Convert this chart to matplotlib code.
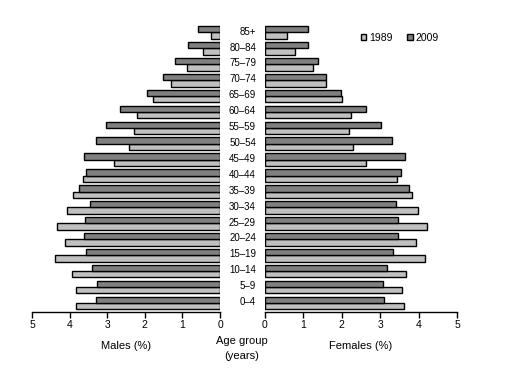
import matplotlib.pyplot as plt
import numpy as np

plt.rcParams['font.family'] = ['Liberation Sans', 'DejaVu Sans']

ages = ['0–4', '5–9', '10–14', '15–19', '20–24', '25–29', '30–34', '35–39', '40–44',
        '45–49', '50–54', '55–59', '60–64', '65–69', '70–74', '75–79', '80–84', '85+']

males_1989 = [3.84, 3.82, 3.93, 4.38, 4.11, 4.33, 4.06, 3.90, 3.64,
              2.81, 2.41, 2.28, 2.20, 1.78, 1.30, 0.88, 0.45, 0.24]
males_2009 = [3.31, 3.27, 3.40, 3.56, 3.63, 3.58, 3.45, 3.74, 3.56,
              3.61, 3.29, 3.03, 2.66, 1.94, 1.52, 1.20, 0.85, 0.59]
females_1989 = [3.63, 3.58, 3.68, 4.17, 3.94, 4.22, 3.99, 3.83, 3.44,
                2.64, 2.28, 2.20, 2.23, 2.00, 1.60, 1.24, 0.77, 0.58]
females_2009 = [3.11, 3.06, 3.19, 3.34, 3.47, 3.47, 3.42, 3.75, 3.55,
                3.65, 3.31, 3.03, 2.64, 1.97, 1.60, 1.37, 1.13, 1.13]

light = '#c0c0c0'
dark = '#808080'

fig = plt.figure(figsize=(5.13, 3.75), dpi=100)
bottom, height = 63 / 375, 288 / 375
ax_m = fig.add_axes([32 / 513, bottom, 188 / 513, height])
ax_f = fig.add_axes([265 / 513, bottom, 192 / 513, height])

y = np.arange(len(ages))
h = 0.4

ax_m.barh(y - 0.2, males_1989, height=h, color=light, edgecolor='black', linewidth=1)
ax_m.barh(y + 0.2, males_2009, height=h, color=dark, edgecolor='black', linewidth=1)
ax_f.barh(y - 0.2, females_1989, height=h, color=light, edgecolor='black', linewidth=1, label='1989')
ax_f.barh(y + 0.2, females_2009, height=h, color=dark, edgecolor='black', linewidth=1, label='2009')

ax_m.set_xlim(5, 0)
ax_f.set_xlim(0, 5)

for ax in (ax_m, ax_f):
    ax.set_ylim(-0.57, 17.53)
    ax.set_yticks([])
    for s in ['top', 'left', 'right']:
        ax.spines[s].set_visible(False)
    ax.spines['bottom'].set_linewidth(1)
    ax.set_xticks(range(6))
    ax.tick_params(axis='x', direction='out', length=4, width=1, labelsize=7.5, pad=2)

ax_m.set_xlabel('Males (%)', fontsize=8, labelpad=8)
ax_f.set_xlabel('Females (%)', fontsize=8, labelpad=8)

# age group labels between the two halves
for i, a in enumerate(ages):
    ax_f.text(-9 / 38.4, i + 0.05, a, ha='right', va='center', fontsize=7)

fig.text(242 / 513, 1 - 341 / 375, 'Age group', ha='center', va='center', fontsize=8)
fig.text(242 / 513, 1 - 356 / 375, '(years)', ha='center', va='center', fontsize=8)

ax_f.legend(loc='upper left', bbox_to_anchor=(0.5, 0.97), ncol=2, frameon=False,
            fontsize=7.5, handlelength=0.5, handleheight=0.5, handletextpad=0.3,
            columnspacing=1.4, borderaxespad=0, borderpad=0)

fig.savefig('out.png', dpi=100)
